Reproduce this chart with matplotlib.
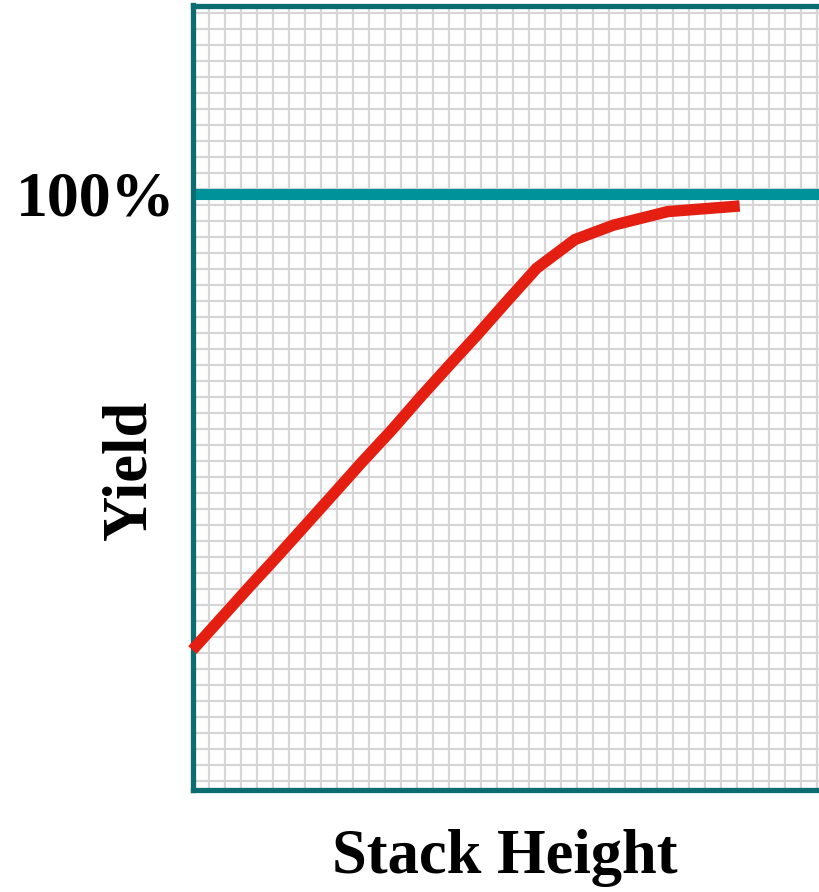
import numpy as np
import matplotlib.pyplot as plt

# yield curve vs stack height (stack height in grid units, yield in %)
stack_height = [0, 1.8, 3.6, 5.35, 7.15, 8.9, 10.6, 12.5, 14.2, 16.1, 17.8,
                19.7, 21.5, 23.9, 26.3, 29.7, 34.2]
yield_pct = [43.0, 47.0, 51.0, 54.8, 58.8, 62.7, 66.5, 70.6, 74.5, 78.7, 82.4,
             86.7, 90.7, 94.3, 96.1, 97.8, 98.5]
target_yield = 100
target_label = "100%"

plt.rcParams['font.family'] = ['Liberation Serif', 'DejaVu Serif']

W, H = 819, 892
fig = plt.figure(figsize=(W / 100, H / 100), dpi=100)

# axes laid out in pixels; right edge runs past the figure
x0, x1, y_top, y_bot = 192.5, 826.1, 5.5, 790
ax = fig.add_axes([x0 / W, (H - y_bot) / H, (x1 - x0) / W, (y_bot - y_top) / H])
ax.set_xlim(0, 39.6)
ax.set_ylim(25.5, 123.56)

# fine graph-paper grid
for gx in np.arange(1, 40):
    ax.axvline(gx, color='#d6d6d6', lw=1.6, zorder=0)
for gy in np.arange(122.6, 25.5, -2):
    ax.axhline(gy, color='#d6d6d6', lw=1.6, zorder=0)

spine_col = '#0b6c71'
for side in ['left', 'bottom', 'top']:
    ax.spines[side].set_color(spine_col)
    ax.spines[side].set_linewidth(3.8)
ax.spines['right'].set_visible(False)

ax.axhline(target_yield, color='#00929a', lw=8, zorder=2)
ax.plot(stack_height, yield_pct, color='#e41f12', lw=8.2,
        solid_capstyle='butt', solid_joinstyle='miter', clip_on=False, zorder=5)

ax.set_xticks([])
ax.set_yticks([target_yield], [target_label])
ax.tick_params(axis='y', length=0, pad=12, labelsize=46)
for lbl in ax.get_yticklabels():
    lbl.set_fontweight('bold')

fig.text(130 / W, 1 - 470 / H, "Yield", rotation=90, fontsize=45,
         fontweight='bold', ha='center', va='center')
fig.text(505 / W, 1 - 858 / H, "Stack Height", fontsize=45,
         fontweight='bold', ha='center', va='center')

fig.savefig("out.png", dpi=100)
